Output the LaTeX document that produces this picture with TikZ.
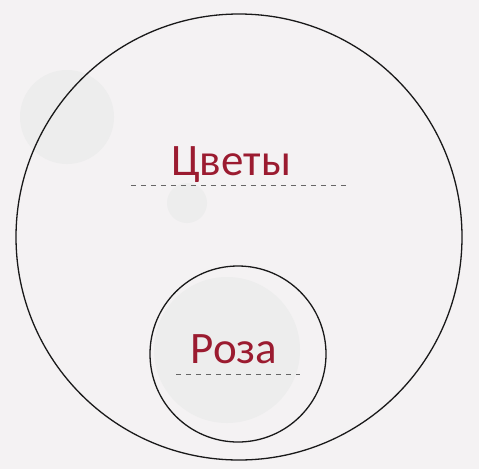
\documentclass[tikz,border=0pt]{standalone}
\usepackage{fontspec}
\setmainfont{Carlito}
\usetikzlibrary{positioning}
\definecolor{wine}{HTML}{9B1B30}
\definecolor{paper}{HTML}{F4F2F3}
\begin{document}
\begin{tikzpicture}[x=1pt, y=-1pt]
\tikzstyle{set}=[circle, draw=black!90, line width=1.3pt, inner sep=0pt]
\tikzstyle{word}=[text=wine, font=\fontsize{45}{50}\selectfont, inner sep=0pt, anchor=base]
\tikzstyle{guide}=[dashed, dash pattern=on 5pt off 5pt, draw=black!60, line width=0.8pt]
\tikzstyle{blot}=[fill=black!7, draw=none]
    \fill[paper] (0,0) rectangle (479,469);
    \useasboundingbox (0,0) rectangle (479,469);
    % faint shapes showing through the paper
    \fill[blot] (67,117) circle (47);
    \fill[blot] (227,350) circle (73);
    \fill[blot] (187,203) circle (20);
    \node[set, minimum size=446pt] (flowers) at (239,237) {};
    \node[set, minimum size=176pt] (rose) at (238,354) {};
    \node[word] (flowerslabel) at (231,175) {Цветы};
    \node[word] (roselabel) at (234,363) {Роза};
    \coordinate (fl1) at (131,185);
    \coordinate (fl2) at (346,185);
    \coordinate (rl1) at (176,374);
    \coordinate (rl2) at (300,374);
    \draw[guide] (fl1) -- (fl2);
    \draw[guide] (rl1) -- (rl2);
\end{tikzpicture}
\end{document}
